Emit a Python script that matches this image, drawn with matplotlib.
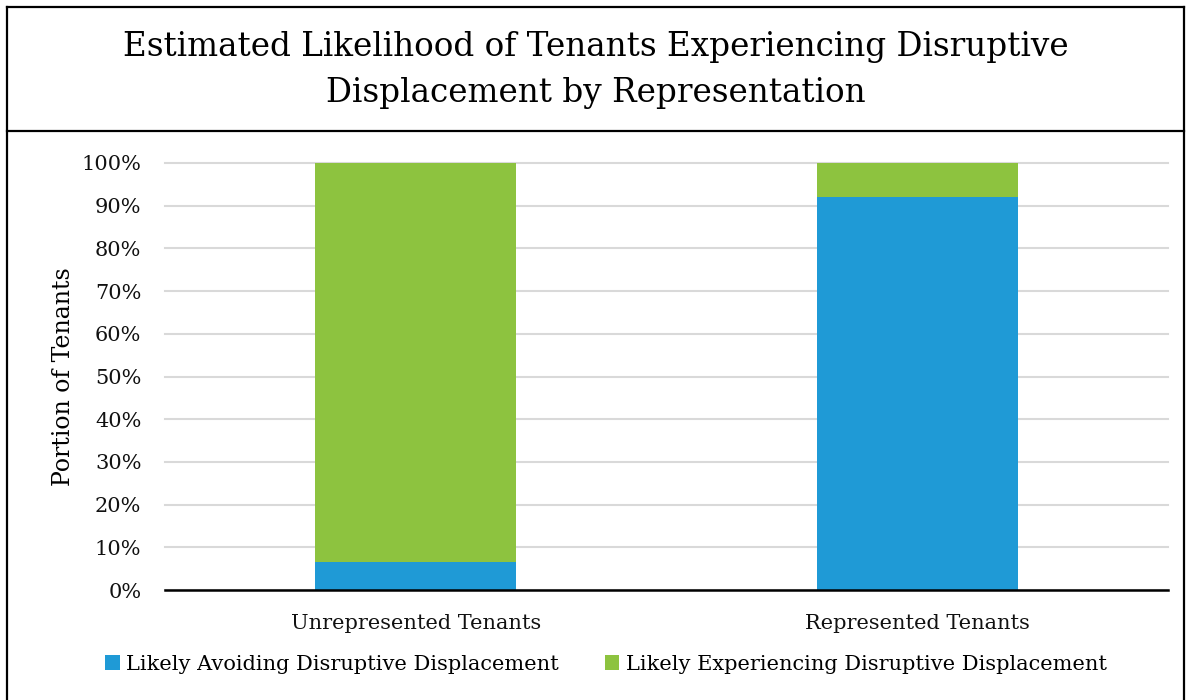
import numpy as np
import matplotlib.pyplot as plt
from matplotlib.lines import Line2D
from matplotlib.ticker import PercentFormatter

plt.rcParams['font.family'] = ['DejaVu Serif']

# Data
categories = ['Unrepresented Tenants', 'Represented Tenants']
avoiding = [6.6, 92.0]       # % likely avoiding disruptive displacement
experiencing = [93.4, 8.0]   # % likely experiencing disruptive displacement
series_names = ['Likely Avoiding Disruptive Displacement',
                'Likely Experiencing Disruptive Displacement']
colors = ['#1f9ad6', '#8dc33f']

W, H = 1191, 700
fig = plt.figure(figsize=(W / 100, H / 100), dpi=100)

# outer frame and title box
lw = 1.6
fig.add_artist(Line2D([7 / W, 7 / W], [0, 1 - 7 / H], color='black', lw=lw))
fig.add_artist(Line2D([1184 / W, 1184 / W], [0, 1 - 7 / H], color='black', lw=lw))
fig.add_artist(Line2D([7 / W, 1184 / W], [1 - 7 / H, 1 - 7 / H], color='black', lw=lw))
fig.add_artist(Line2D([7 / W, 1184 / W], [1 - 131 / H, 1 - 131 / H], color='black', lw=lw))

fig.text(0.5, 1 - 70 / H,
         'Estimated Likelihood of Tenants Experiencing Disruptive\nDisplacement by Representation',
         ha='center', va='center', fontsize=23.5, linespacing=1.55)

ax = fig.add_axes([165 / W, 1 - 590 / H, (1168 - 165) / W, (590 - 163) / H])
x = np.arange(len(categories))
ax.bar(x, avoiding, width=0.4, color=colors[0], label=series_names[0], zorder=3)
ax.bar(x, experiencing, width=0.4, bottom=avoiding, color=colors[1],
       label=series_names[1], zorder=3)

ax.set_xlim(-0.5, 1.5)
ax.set_ylim(0, 100)
ax.set_yticks(np.arange(0, 101, 10))
ax.yaxis.set_major_formatter(PercentFormatter(decimals=0))
ax.set_xticks(x)
ax.set_xticklabels(categories)
ax.tick_params(axis='both', length=0, labelsize=15, colors='#111111')
ax.tick_params(axis='x', pad=17)
ax.tick_params(axis='y', pad=17)
ax.grid(axis='y', color='#d9d9d9', lw=1.5, zorder=0)
for gl in ax.get_ygridlines():
    gl.set_clip_on(False)
for s in ['left', 'right', 'top']:
    ax.spines[s].set_visible(False)
ax.spines['bottom'].set_linewidth(1.8)
ax.spines['bottom'].set_zorder(4)
ax.set_ylabel('Portion of Tenants', fontsize=17, labelpad=5)

ax.legend(loc='center', bbox_to_anchor=(606 / W, (700 - 664) / H), bbox_transform=fig.transFigure,
          ncol=2, frameon=False, fontsize=15, handlelength=0.7, handleheight=0.7,
          handletextpad=0.3, columnspacing=2.2)

fig.savefig('out.png', dpi=100)
